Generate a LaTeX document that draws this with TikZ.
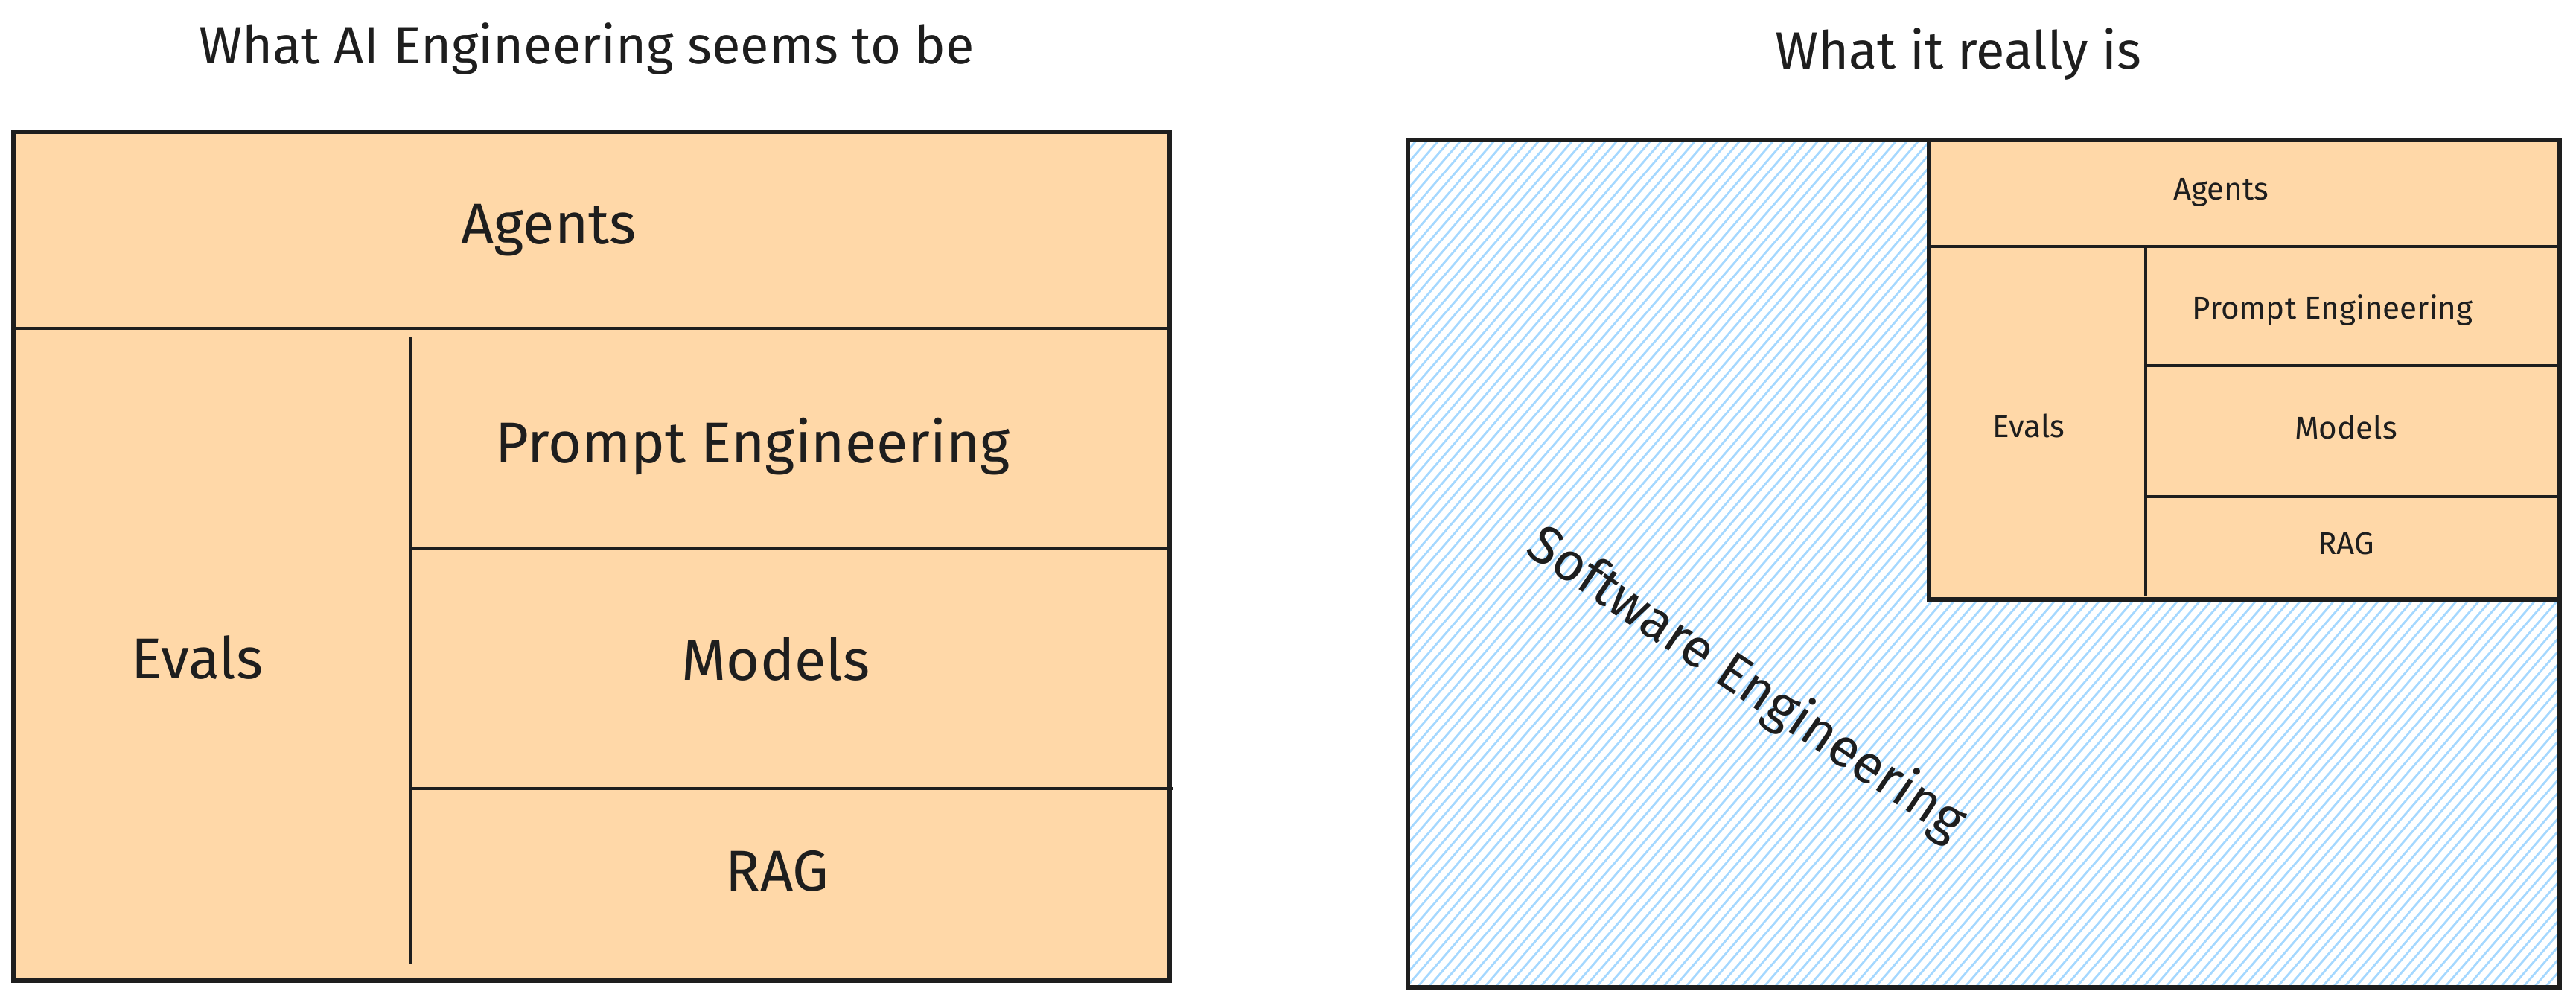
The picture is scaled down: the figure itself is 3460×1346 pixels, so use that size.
\documentclass[tikz,border=0pt]{standalone}
\usepackage{fontspec}
\setmainfont{Fira Sans}
\definecolor{peach}{HTML}{FFD8A8}
\definecolor{skyhatch}{HTML}{A5D8FF}
\definecolor{ink}{HTML}{1E1E1E}

\begin{document}
\begin{tikzpicture}[x=0.1mm, y=-0.1mm,
    heading/.style = {font=\fontsize{20}{24}\selectfont, text=ink},
    big/.style = {font=\fontsize{22}{26}\selectfont, text=ink},
    small/.style = {font=\fontsize{12}{14}\selectfont, text=ink},
    frame/.style = {draw=ink, line width=1.6pt},
    divider/.style = {draw=ink, line width=1.3pt},
    thin/.style = {draw=ink, line width=0.9pt},
    hatch/.style = {draw=skyhatch, line width=0.8pt}]
  \useasboundingbox (0,0) rectangle (3460,1346);

  % what it seems to be
  \node[heading] (seems) at (788,66) {What AI Engineering seems to be};
  \fill[peach] (18,177) rectangle (1571,1317);
  \draw[divider] (18,441) -- (1571,441);
  \draw[thin] (552,452) -- (552,1295);
  \draw[divider] (552,737) -- (1571,737);
  \draw[divider] (552,1059) -- (1575,1059);
  \draw[frame] (18,177) rectangle (1571,1317);
  \node[big] (agentsL) at (737,309) {Agents};
  \node[big] (promptL) at (1011,600) {Prompt Engineering};
  \node[big] (evalsL) at (265,883) {Evals};
  \node[big] (modelsL) at (1042,885) {Models};
  \node[big] (ragL) at (1044,1170) {RAG};

  % what it really is
  \node[heading] (really) at (2630,73) {What it really is};
  \begin{scope}
    \clip (1891,188) rectangle (3438,1326);
    \foreach \hx in {880,895,...,3440}
      \draw[hatch] (\hx,1330) -- ++(1000,-1150);
  \end{scope}
  \node[font=\fontsize{20.5}{24}\selectfont, text=ink, rotate=-34] (software) at (2345,919) {Software Engineering};
  \fill[peach] (2591,188) rectangle (3438,805);
  \draw[divider] (2591,331) -- (3438,331);
  \draw[thin] (2882,331) -- (2882,800);
  \draw[divider] (2882,491) -- (3438,491);
  \draw[divider] (2882,667) -- (3438,667);
  \draw[frame] (2591,188) rectangle (3438,805);
  \draw[frame] (1891,188) rectangle (3438,1326);
  \node[small] (agentsR) at (2983,258) {Agents};
  \node[small] (promptR) at (3133,417) {Prompt Engineering};
  \node[small] (evalsR) at (2725,572) {Evals};
  \node[small] (modelsR) at (3151,574) {Models};
  \node[small] (ragR) at (3151,730) {RAG};
\end{tikzpicture}
\end{document}
